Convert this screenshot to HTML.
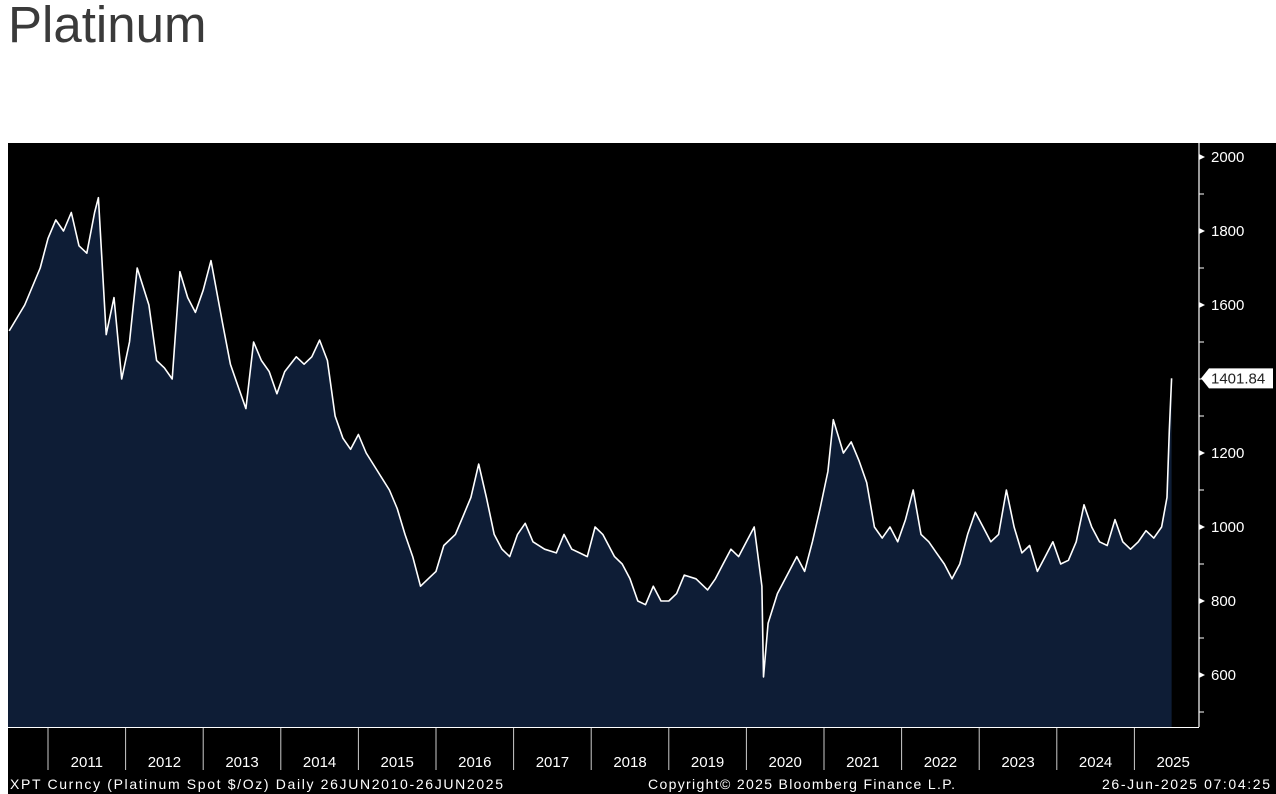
<!DOCTYPE html>
<html><head><meta charset="utf-8"><style>
body{margin:0;width:1276px;height:794px;background:#fff;overflow:hidden;font-family:"Liberation Sans",sans-serif}
#title{position:absolute;left:8px;top:-5px;font-size:51px;color:#3a3a3a;margin:0;font-weight:normal}
svg{position:absolute;left:0;top:0}
</style></head><body>
<h1 id="title">Platinum</h1>
<svg id="chart" width="1276" height="794"></svg>
<script>
const dates=[2010.5,2010.7,2010.9,2011.0,2011.1,2011.2,2011.3,2011.4,2011.5,2011.6,2011.65,2011.75,2011.85,2011.95,2012.05,2012.15,2012.3,2012.4,2012.5,2012.6,2012.7,2012.8,2012.9,2013.0,2013.1,2013.25,2013.35,2013.45,2013.55,2013.65,2013.75,2013.85,2013.95,2014.05,2014.2,2014.3,2014.4,2014.5,2014.6,2014.7,2014.8,2014.9,2015.0,2015.1,2015.25,2015.4,2015.5,2015.6,2015.7,2015.8,2015.9,2016.0,2016.1,2016.25,2016.35,2016.45,2016.55,2016.65,2016.75,2016.85,2016.95,2017.05,2017.15,2017.25,2017.4,2017.55,2017.65,2017.75,2017.85,2017.95,2018.05,2018.15,2018.3,2018.4,2018.5,2018.6,2018.7,2018.8,2018.9,2019.0,2019.1,2019.2,2019.35,2019.5,2019.6,2019.7,2019.8,2019.9,2020.0,2020.1,2020.2,2020.22,2020.28,2020.4,2020.55,2020.65,2020.75,2020.85,2020.95,2021.05,2021.12,2021.25,2021.35,2021.45,2021.55,2021.65,2021.75,2021.85,2021.95,2022.05,2022.15,2022.25,2022.35,2022.45,2022.55,2022.65,2022.75,2022.85,2022.95,2023.05,2023.15,2023.25,2023.35,2023.45,2023.55,2023.65,2023.75,2023.85,2023.95,2024.05,2024.15,2024.25,2024.35,2024.45,2024.55,2024.65,2024.75,2024.85,2024.95,2025.05,2025.15,2025.25,2025.35,2025.42,2025.45,2025.48];
const prices=[1530,1600,1700,1780,1830,1800,1850,1760,1740,1850,1890,1520,1620,1400,1500,1700,1600,1450,1430,1400,1690,1620,1580,1640,1720,1550,1440,1380,1320,1500,1450,1420,1360,1420,1460,1440,1460,1505,1450,1300,1240,1210,1250,1200,1150,1100,1050,980,920,840,860,880,950,980,1030,1080,1170,1080,980,940,920,980,1010,960,940,930,980,940,930,920,1000,980,920,900,860,800,790,840,800,800,820,870,860,830,860,900,940,920,960,1000,840,595,740,820,880,920,880,960,1050,1150,1290,1200,1230,1180,1120,1000,970,1000,960,1020,1100,980,960,930,900,860,900,980,1040,1000,960,980,1100,1000,930,950,880,920,960,900,910,960,1060,1000,960,950,1020,960,940,960,990,970,1000,1080,1260,1401.84];
const yTicks=[600,800,1000,1200,1600,1800,2000];
const years=[2011,2012,2013,2014,2015,2016,2017,2018,2019,2020,2021,2022,2023,2024,2025];
const lastLabel="1401.84";
const NS="http://www.w3.org/2000/svg";
const svg=document.getElementById('chart');
const X=t=>48+(t-2011)*77.6;
const Y=v=>527-(v-1000)*0.37;
function mk(tag,a,p){const e=document.createElementNS(NS,tag);for(const k in a)e.setAttribute(k,a[k]);(p||svg).appendChild(e);return e;}
const bg=mk('rect',{x:8,y:143,width:1268,height:651,fill:'#000'});


let d='';dates.forEach((t,i)=>{d+=(i?'L':'M')+X(t).toFixed(1)+' '+Y(prices[i]).toFixed(1);});
const area=mk('path',{d:d+`L${X(dates[dates.length-1])} 727L8 727Z`,fill:'#0e1d36'});


const line=mk('path',{d:d,fill:'none',stroke:'#fff','stroke-width':1.6,'stroke-linejoin':'round'});


const ax=mk('line',{x1:1199,y1:143,x2:1199,y2:727,stroke:'#fff','stroke-width':1.2});


for(let v=500;v<=2000;v+=100){const tk=mk('line',{x1:1199,y1:Y(v),x2:1204,y2:Y(v),stroke:'#fff','stroke-width':1});

}
yTicks.forEach(v=>{const y=Y(v);
const tri=mk('path',{d:`M1199 ${y-3}L1205 ${y}L1199 ${y+3}Z`,fill:'#fff'});


const tx=mk('text',{x:1211,y:y+5,fill:'#fff','font-size':15,'font-family':'Liberation Sans, sans-serif'});tx.textContent=v;

});
const ly=Y(prices[prices.length-1]);
const lb=mk('path',{d:`M1201 ${ly}L1209 ${ly-10}L1273 ${ly-10}L1273 ${ly+10}L1209 ${ly+10}Z`,fill:'#fff'});


const lt=mk('text',{x:1211,y:ly+5,fill:'#222','font-size':15,'font-family':'Liberation Sans, sans-serif'});lt.textContent=lastLabel;


const bl=mk('line',{x1:8,y1:727.5,x2:1199,y2:727.5,stroke:'#fff','stroke-width':1});


years.forEach(yr=>{const x=X(yr);
const s=mk('line',{x1:x,y1:728,x2:x,y2:770,stroke:'#ccc','stroke-width':1});


const tx=mk('text',{x:x+38.8,y:767,fill:'#fff','font-size':15,'text-anchor':'middle','font-family':'Liberation Sans, sans-serif'});tx.textContent=yr;

});
const f=[[10,'XPT Curncy (Platinum Spot  $/Oz)  Daily 26JUN2010-26JUN2025','footer-source',493],[648,'Copyright© 2025 Bloomberg Finance L.P.','footer-copyright',307],[1102,'26-Jun-2025 07:04:25','footer-timestamp',168]];
f.forEach(a=>{const tx=mk('text',{x:a[0],y:789,fill:'#fff','font-size':14,textLength:a[3],lengthAdjust:'spacing','font-family':'Liberation Sans, sans-serif'});tx.textContent=a[1];

});
</script>
</body></html>
